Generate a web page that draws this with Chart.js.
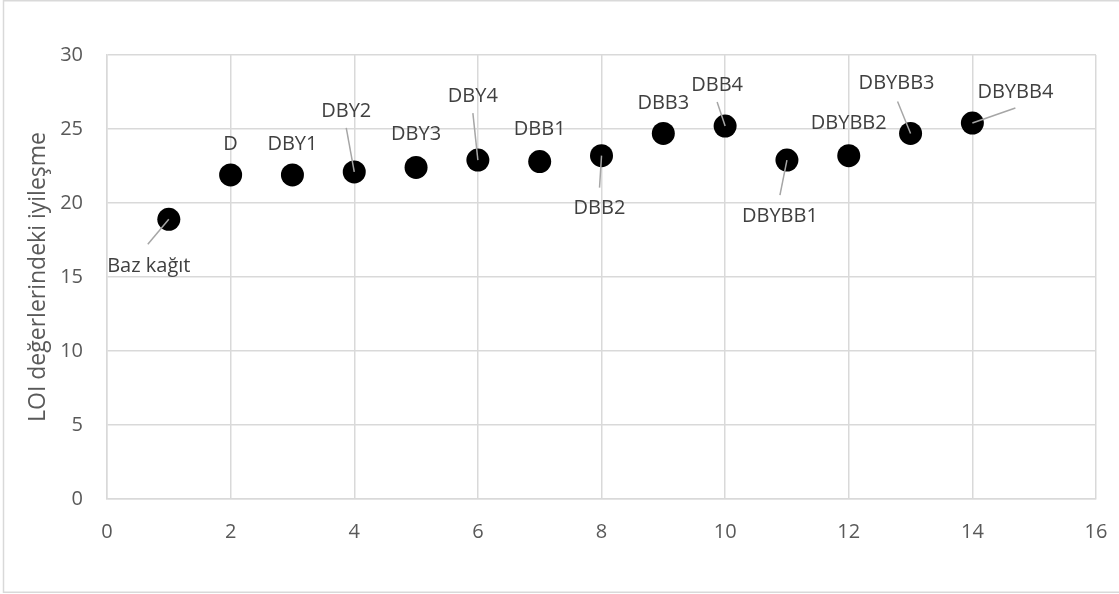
<!DOCTYPE html>
<html>
<head>
<meta charset="utf-8">
<script src="https://cdn.jsdelivr.net/npm/chart.js@4.4.1/dist/chart.umd.min.js"></script>
<style>
  html, body { margin: 0; padding: 0; background: #ffffff; }
  #wrap { width: 1119px; height: 594px; position: relative; }
</style>
</head>
<body>
<div id="wrap"><canvas id="c" width="1119" height="594"></canvas></div>
<script>
// ---- data ----
const xValues = [1, 2, 3, 4, 5, 6, 7, 8, 9, 10, 11, 12, 13, 14];
const loiValues = [18.9, 21.9, 21.9, 22.1, 22.4, 22.9, 22.8, 23.2, 24.7, 25.2, 22.9, 23.2, 24.7, 25.4];
const pointNames = ['Baz kağıt', 'D', 'DBY1', 'DBY2', 'DBY3', 'DBY4', 'DBB1', 'DBB2', 'DBB3', 'DBB4', 'DBYBB1', 'DBYBB2', 'DBYBB3', 'DBYBB4'];
const xTicks = [0, 2, 4, 6, 8, 10, 12, 14, 16];
const yTicks = [0, 5, 10, 15, 20, 25, 30];
const yTitle = 'LOI değerlerindeki iyileşme';

// ---- label placement (offsets relative to each point, px) ----
const labelLayout = [
  { dx: -20, dy: 47, lx: -21, ly: 25 },
  { dx: 0, dy: -31 },
  { dx: 0, dy: -31 },
  { dx: -8, dy: -61, lx: -8, ly: -44 },
  { dx: 0, dy: -33 },
  { dx: -5, dy: -64, lx: -5, ly: -47 },
  { dx: 0, dy: -32 },
  { dx: -2, dy: 53, lx: -2, ly: 32 },
  { dx: 0, dy: -30 },
  { dx: -8, dy: -41, lx: -8, ly: -24 },
  { dx: -7, dy: 56, lx: -7, ly: 35 },
  { dx: 0, dy: -32 },
  { dx: -14, dy: -50, lx: -13, ly: -32 },
  { dx: 43, dy: -31, lx: 43, ly: -15 }
];

const FONT = '"Open Sans", "Noto Sans", sans-serif';
const TEXT = '#595959';
const GRID = '#d9d9d9';

const points = xValues.map((x, i) => ({ x: x, y: loiValues[i] }));

const frame = {
  id: 'frame',
  beforeDraw(chart) {
    const ctx = chart.ctx;
    ctx.save();
    ctx.fillStyle = '#ffffff';
    ctx.fillRect(0, 0, chart.width, chart.height);
    ctx.strokeStyle = GRID;
    ctx.lineWidth = 1.5;
    ctx.strokeRect(3.5, 0.75, chart.width - 2, 591.5);
    ctx.restore();
  }
};

const dataLabels = {
  id: 'dataLabels',
  afterDatasetsDraw(chart) {
    const ctx = chart.ctx;
    const meta = chart.getDatasetMeta(0);
    ctx.save();
    meta.data.forEach((el, i) => {
      const L = labelLayout[i];
      if (L.lx !== undefined) {
        ctx.strokeStyle = '#a6a6a6';
        ctx.lineWidth = 1.5;
        ctx.beginPath();
        ctx.moveTo(el.x + L.lx, el.y + L.ly);
        ctx.lineTo(el.x, el.y);
        ctx.stroke();
      }
    });
    ctx.fillStyle = '#404040';
    ctx.font = '20px ' + FONT;
    ctx.textAlign = 'center';
    ctx.textBaseline = 'middle';
    meta.data.forEach((el, i) => {
      const L = labelLayout[i];
      ctx.fillText(pointNames[i], el.x + L.dx, el.y + L.dy);
    });
    ctx.restore();
  }
};

new Chart(document.getElementById('c'), {
  type: 'scatter',
  data: {
    datasets: [{
      data: points,
      backgroundColor: '#000000',
      borderColor: '#000000',
      pointRadius: 11.5,
      pointHoverRadius: 11.5,
      borderWidth: 0
    }]
  },
  options: {
    responsive: false,
    animation: false,
    events: [],
    layout: { padding: { left: 0, right: 23, top: 55, bottom: 0 } },
    plugins: { legend: { display: false }, tooltip: { enabled: false } },
    scales: {
      x: {
        type: 'linear',
        min: xTicks[0],
        max: xTicks[xTicks.length - 1],
        afterBuildTicks(scale) { scale.ticks = xTicks.map(v => ({ value: v })); },
        afterFit(scale) { scale.height = 95; scale.paddingLeft = 0; scale.paddingRight = 0; },
        grid: { color: GRID, lineWidth: 1.5, drawTicks: false },
        border: { color: GRID, width: 1.5 },
        ticks: { color: TEXT, font: { family: FONT, size: 20 }, padding: 21, maxRotation: 0 }
      },
      y: {
        type: 'linear',
        min: yTicks[0],
        max: yTicks[yTicks.length - 1],
        afterBuildTicks(scale) { scale.ticks = yTicks.map(v => ({ value: v })); },
        afterFit(scale) { scale.width = 107; scale.paddingTop = 0; scale.paddingBottom = 0; },
        grid: { color: GRID, lineWidth: 1.5, drawTicks: false },
        border: { color: GRID, width: 1.5 },
        ticks: { color: TEXT, font: { family: FONT, size: 20 }, padding: 24 },
        title: {
          display: true,
          text: yTitle,
          color: TEXT,
          font: { family: FONT, size: 23, weight: 'normal' },
          padding: { top: 25, bottom: 0 }
        }
      }
    }
  },
  plugins: [frame, dataLabels]
});
</script>
</body>
</html>
